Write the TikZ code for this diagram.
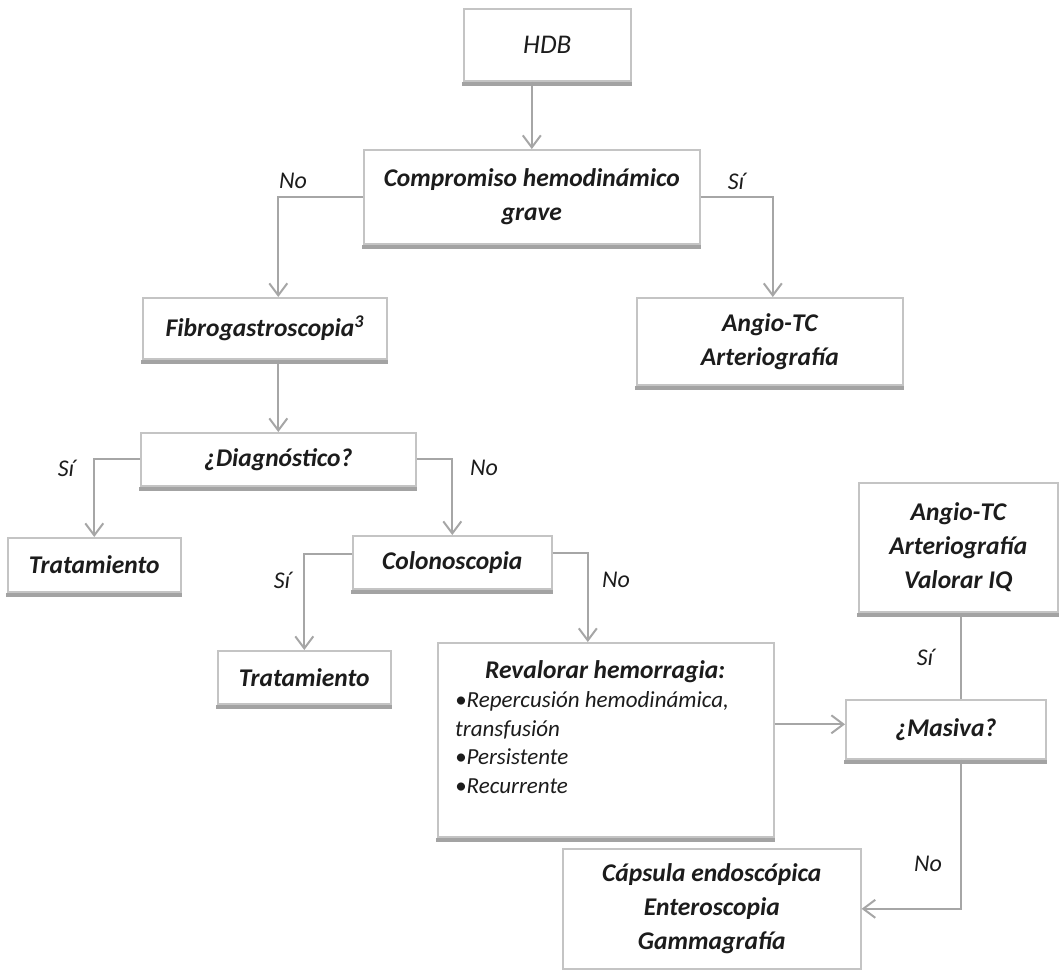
\documentclass[tikz,border=0pt]{standalone}
\usepackage{fontspec}
\setmainfont{Carlito}
\usetikzlibrary{arrows.meta,calc}
\definecolor{boxgray}{HTML}{C4C4C4}
\definecolor{bargray}{HTML}{A3A3A3}
\definecolor{linegray}{HTML}{A6A6A6}
\definecolor{txt}{HTML}{1C1C1C}
\newcommand\bfi{\bfseries\itshape\fontsize{25.5}{34}\selectfont}
\begin{document}
\begin{tikzpicture}[x=1pt,y=-1pt,
  box/.style={draw=boxgray, line width=1.6pt, fill=white, anchor=north west, inner sep=0pt, align=center, text=txt, font=\bfi},
  bar/.style={draw=bargray, line width=4.5pt},
  conn/.style={draw=linegray, line width=2.2pt, -{Straight Barb[length=12pt,width=18pt,line width=2pt]}},
  plain/.style={draw=linegray, line width=2.2pt},
  lbl/.style={text=txt, font=\itshape\fontsize{24}{28}\selectfont, inner sep=0pt}]
\useasboundingbox (0,0) rectangle (1059,970);

\node[box, minimum width=167pt, minimum height=72pt, font=\itshape\fontsize{27}{34}\selectfont] (hdb) at (463,8) {HDB};
\node[box, minimum width=336pt, minimum height=94pt] (comp) at (363,149) {Compromiso hemodinámico\\grave};
\node[box, minimum width=244pt, minimum height=61pt] (fib) at (142,297) {Fibrogastroscopia\textsuperscript{3}};
\node[box, minimum width=266pt, minimum height=87pt] (ang1) at (636,297) {Angio-TC\\Arteriografía};
\node[box, minimum width=275pt, minimum height=53pt] (diag) at (140,432) {¿Diagnóstico?};
\node[box, minimum width=173pt, minimum height=54pt] (tr1) at (7,537) {Tratamiento};
\node[box, minimum width=199pt, minimum height=53pt] (col) at (352,535) {Colonoscopia};
\node[box, minimum width=173pt, minimum height=53pt] (tr2) at (217,650) {Tratamiento};
\node[box, minimum width=336pt, minimum height=194pt] (rev) at (437,642) {};
\node[anchor=north west, inner sep=0pt, text=txt, align=left] (revtxt) at (455,660)
  {\begin{minipage}[t]{300pt}\centering{\bfi Revalorar hemorragia:}\par\vspace{1pt}
   \raggedright\itshape\fontsize{23}{28.5}\selectfont •Repercusión hemodinámica,\\transfusión\\•Persistente\\•Recurrente\end{minipage}};
\node[box, minimum width=199pt, minimum height=129pt] (ang2) at (858,482) {Angio-TC\\Arteriografía\\Valorar IQ};
\node[box, minimum width=200pt, minimum height=59pt] (mas) at (845,699) {¿Masiva?};
\node[box, minimum width=298pt, minimum height=120pt] (cap) at (562,848) {Cápsula endoscópica\\Enteroscopia\\Gammagrafía};

% connectors
\draw[conn] (comp.north |- hdb.south) -- (comp.north);
\draw[conn] (comp.west) -| (diag.north |- fib.north);
\draw[conn] (comp.east) -| ([xshift=3pt]ang1.north);
\draw[conn] (diag.north |- fib.south) -- (diag.north);
\draw[conn] (diag.west) -| (tr1.north);
\draw[conn] (diag.east) -| (col.north);
\draw[conn] ([yshift=8pt]col.west) -| (tr2.north);
\draw[conn] ([yshift=9pt]col.east) -| ([xshift=-18pt]rev.north);
\draw[conn] ([yshift=5pt]mas.west -| rev.east) -- ([yshift=5pt]mas.west);
\draw[plain] ([xshift=15pt]mas.north) -- ([xshift=15pt]mas.north |- ang2.south);
\draw[conn] ([xshift=15pt]mas.south) |- (cap.east);

% bottom bars
\foreach \n in {hdb,comp,fib,ang1,diag,tr1,col,tr2,rev,ang2,mas}
  \draw[bar] ([xshift=-0.8pt,yshift=-2.4pt]\n.south west) -- ([xshift=0.8pt,yshift=-2.4pt]\n.south east);

% labels
\node[lbl] (l1) at (293,181) {No};
\node[lbl] (l2) at (736,181) {Sí};
\node[lbl] (l3) at (66,468) {Sí};
\node[lbl] (l4) at (484,468) {No};
\node[lbl] (l5) at (282,580) {Sí};
\node[lbl] (l6) at (616,580) {No};
\node[lbl] (l7) at (925,657) {Sí};
\node[lbl] (l8) at (928,864) {No};
\end{tikzpicture}
\end{document}
